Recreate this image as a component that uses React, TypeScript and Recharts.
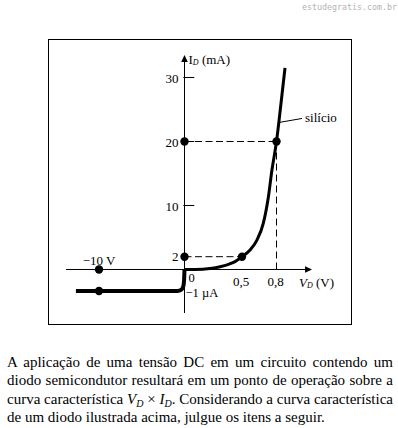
import { ComposedChart, Line, Scatter, XAxis, YAxis, ReferenceLine, ReferenceDot } from 'recharts'

// forward branch of the silicon diode: V_D in volts, I_D in mA
const forwardVolts = [0, 0.08, 0.16, 0.24, 0.31, 0.37, 0.42, 0.5, 0.57, 0.63, 0.685, 0.73, 0.76, 0.8, 0.84, 0.874]
const forwardMilliamps = [0, 0.01, 0.04, 0.18, 0.44, 0.72, 1.06, 2, 3.05, 4.6, 7.2, 11.4, 15.5, 20, 26.1, 31.5]

// reverse branch: V_D in volts, I_D in µA (drawn on a compressed scale)
const reverseVolts = [-12.7, -0.8, -0.4, -0.15, -0.05, 0]
const reverseMicroamps = [-1, -1, -0.95, -0.8, -0.5, 0]

const yTickValues = [10, 20, 30]
const yTickLabels = ['10', '20', '30']
const xTickValues = [0.5, 0.8]
const xTickLabels = ['0,5', '0,8']

// marked points on the figure
const forwardMarks = [
  { v: 0, i: 2 },
  { v: 0.5, i: 2 },
  { v: 0, i: 20 },
  { v: 0.8, i: 20 },
]
const reverseMarks = [
  { v: -10, ua: 0 },
  { v: -10, ua: -1 },
]

// the negative side of both axes uses its own scale (broken axis)
const REV_V = 0.07435
const REV_UA = 3.36

const X_DOMAIN: [number, number] = [-1.1783, 1.4478]
const Y_DOMAIN: [number, number] = [-8.516, 35.86]
const X_AXIS_FROM = -1.03
const X_AXIS_TO = 1.109
const Y_AXIS_FROM = -6.8
const Y_AXIS_TO = 33.5

const SERIF = "'Liberation Serif', 'Times New Roman', serif"

const forwardData = forwardVolts.map((v, k) => ({ x: v, y: forwardMilliamps[k] }))
const reverseData = reverseVolts.map((v, k) => ({ x: v * REV_V, y: reverseMicroamps[k] * REV_UA }))
const markData = [
  ...reverseMarks.map(p => ({ x: p.v * REV_V, y: p.ua * REV_UA })),
  ...forwardMarks.map(p => ({ x: p.v, y: p.i })),
]

const arrowUp = (p: any) => (
  <path d={`M${p.cx},${p.cy} L${p.cx - 3.3},${p.cy + 7} L${p.cx + 3.3},${p.cy + 7} Z`} fill="#000" />
)
const arrowRight = (p: any) => (
  <path d={`M${p.cx},${p.cy} L${p.cx - 7},${p.cy - 3.3} L${p.cx - 7},${p.cy + 3.3} Z`} fill="#000" />
)

const text = (content: any, dx: number, dy: number, anchor = 'start', size = 13) => (p: any) => (
  <text
    x={p.cx + dx}
    y={p.cy + dy}
    textAnchor={anchor}
    dominantBaseline="central"
    fontSize={size}
    fontFamily={SERIF}
    fill="#000"
  >
    {content}
  </text>
)

const dot = (p: any) => <circle cx={p.cx} cy={p.cy} r={4.2} fill="#000" />

function DiodeChart() {
  return (
    <ComposedChart width={302} height={284} margin={{ top: 0, right: 0, bottom: 0, left: 0 }}>
      <XAxis type="number" dataKey="x" domain={X_DOMAIN} allowDataOverflow hide />
      <YAxis type="number" dataKey="y" domain={Y_DOMAIN} allowDataOverflow hide />

      {/* axes */}
      <ReferenceLine segment={[{ x: X_AXIS_FROM, y: 0 }, { x: X_AXIS_TO - 0.05, y: 0 }]} stroke="#000" strokeWidth={1} />
      <ReferenceLine segment={[{ x: 0, y: Y_AXIS_FROM }, { x: 0, y: Y_AXIS_TO - 0.8 }]} stroke="#000" strokeWidth={1} />
      <ReferenceDot x={X_AXIS_TO} y={0} r={0} shape={arrowRight} />
      <ReferenceDot x={0} y={Y_AXIS_TO} r={0} shape={arrowUp} />

      {yTickValues.map(v => (
        <ReferenceLine key={`t${v}`} segment={[{ x: -0.01, y: v }, { x: 0.085, y: v }]} stroke="#000" strokeWidth={1} />
      ))}

      {/* guide lines to the operating points */}
      <ReferenceLine segment={[{ x: 0, y: 2 }, { x: 0.5, y: 2 }]} stroke="#000" strokeDasharray="7 3.5" />
      <ReferenceLine segment={[{ x: 0, y: 20 }, { x: 0.8, y: 20 }]} stroke="#000" strokeDasharray="7 3.5" />
      <ReferenceLine segment={[{ x: 0.8, y: 20 }, { x: 0.8, y: 0 }]} stroke="#000" strokeDasharray="7 4" />

      {/* leader to the curve name */}
      <ReferenceLine segment={[{ x: 0.83, y: 23.0 }, { x: 1.022, y: 23.6 }]} stroke="#000" strokeWidth={1} />

      <Line data={reverseData} dataKey="y" type="monotone" stroke="#000" strokeWidth={4} dot={false} isAnimationActive={false} />
      <Line data={forwardData} dataKey="y" type="monotone" stroke="#000" strokeWidth={3} dot={false} isAnimationActive={false} />
      <Scatter data={markData} dataKey="y" shape={dot} isAnimationActive={false} />

      {/* labels */}
      {yTickValues.map((v, k) => (
        <ReferenceDot key={`l${v}`} x={0} y={v} r={0} shape={text(yTickLabels[k], -6, 0.5, 'end')} />
      ))}
      <ReferenceDot x={0} y={2} r={0} shape={text('2', -6, -0.5, 'end')} />
      {xTickValues.map((v, k) => (
        <ReferenceDot key={`x${v}`} x={v} y={0} r={0} shape={text(xTickLabels[k], -1, 12.5, 'middle')} />
      ))}
      <ReferenceDot x={0} y={0} r={0} shape={text('0', 4, 9, 'start', 12.5)} />
      <ReferenceDot x={-10 * REV_V} y={0} r={0} shape={text('\u221210 V', 0, -9, 'middle')} />
      <ReferenceDot x={0} y={-1 * REV_UA} r={0} shape={text('\u22121 \u00b5A', 1, 1.5, 'start', 12.5)} />
      <ReferenceDot
        x={1.0}
        y={0}
        r={0}
        shape={text(
          <>
            <tspan fontStyle="italic">V</tspan>
            <tspan fontStyle="italic" fontSize={8} dy={3}>D</tspan>
            <tspan dy={-3}> (V)</tspan>
          </>,
          -0.5,
          12.5
        )}
      />
      <ReferenceDot
        x={0}
        y={Y_AXIS_TO}
        r={0}
        shape={text(
          <>
            <tspan>I</tspan>
            <tspan fontStyle="italic" fontSize={8} dy={3}>D</tspan>
            <tspan dy={-3}> (mA)</tspan>
          </>,
          4,
          4
        )}
      />
      <ReferenceDot x={1.022} y={23.6} r={0} shape={text('silício', 3, -0.5)} />
    </ComposedChart>
  )
}

const lineStyle = { textAlign: 'justify' as const, textAlignLast: 'justify' as const, whiteSpace: 'nowrap' as const }
const sub = { fontSize: 10, fontStyle: 'italic', verticalAlign: -3, lineHeight: 0 }

export default function App() {
  return (
    <div style={{ position: 'absolute', left: 0, top: 0, width: 398, height: 428, background: '#fff', overflow: 'hidden' }}>
      <div
        style={{
          position: 'absolute',
          right: 1,
          top: 2,
          fontFamily: "'DejaVu Sans Mono', monospace",
          fontSize: 8.3,
          color: '#b4b4b4',
        }}
      >
        estudegratis.com.br
      </div>
      <div
        style={{
          position: 'absolute',
          left: 48,
          top: 39,
          width: 304,
          height: 286,
          border: '1px solid #000',
          boxSizing: 'border-box',
        }}
      >
        <DiodeChart />
      </div>
      <div
        style={{
          position: 'absolute',
          left: 7,
          top: 353,
          width: 386,
          fontFamily: SERIF,
          fontSize: 15,
          lineHeight: '18.3px',
          color: '#000',
        }}
      >
        <div style={lineStyle}>A aplicação de uma tensão DC em um circuito contendo um</div>
        <div style={lineStyle}>diodo semicondutor resultará em um ponto de operação sobre a</div>
        <div style={lineStyle}>
          curva característica <i>V</i>
          <span style={sub}>D</span> × <i>I</i>
          <span style={sub}>D</span>. Considerando a curva característica
        </div>
        <div>de um diodo ilustrada acima, julgue os itens a seguir.</div>
      </div>
    </div>
  )
}
